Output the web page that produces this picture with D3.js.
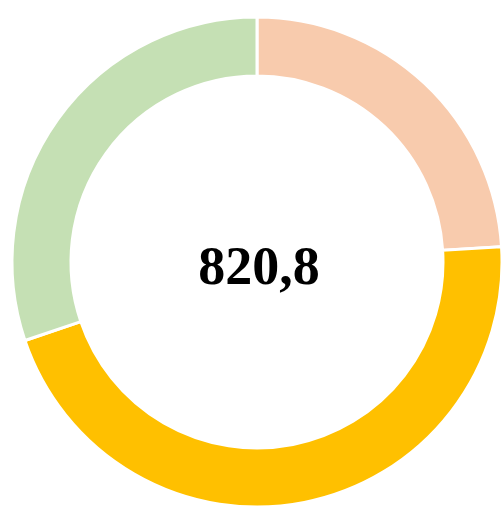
<!DOCTYPE html>
<html>
<head>
<meta charset="utf-8">
<script src="https://cdn.jsdelivr.net/npm/d3@7"></script>
<style>
  html, body { margin: 0; padding: 0; background: #fff; }
</style>
</head>
<body>
<svg id="chart"></svg>
<script>
// slice data, clockwise from 12 o'clock
const categories = ['A', 'B', 'C'];
const values = [197.0, 376.0, 247.8];
const colors = ['#f8cbad', '#ffc000', '#c5e0b4'];
const totalLabel = '820,8';

const w = 501, h = 506;
const cx = 257, cy = 262;
const outerR = 245, innerR = 186;

const svg = d3.select('#chart')
  .attr('width', w)
  .attr('height', h);

const pie = d3.pie()
  .sort(null)
  .value(d => d.value);

const arcFn = d3.arc()
  .innerRadius(innerR)
  .outerRadius(outerR);

const data = categories.map((c, i) => ({ name: c, value: values[i], color: colors[i] }));

const g = svg.append('g')
  .attr('transform', `translate(${cx}, ${cy})`);

g.selectAll('path')
  .data(pie(data))
  .enter()
  .append('path')
  .attr('d', arcFn)
  .attr('fill', d => d.data.color)
  .attr('stroke', '#fff')
  .attr('stroke-width', 3);

g.append('text')
  .attr('x', 2)
  .attr('y', 22)
  .attr('text-anchor', 'middle')
  .style('font-family', '"Liberation Serif", "Times New Roman", serif')
  .style('font-weight', 'bold')
  .style('font-size', '54px')
  .text(totalLabel);
</script>
</body>
</html>
